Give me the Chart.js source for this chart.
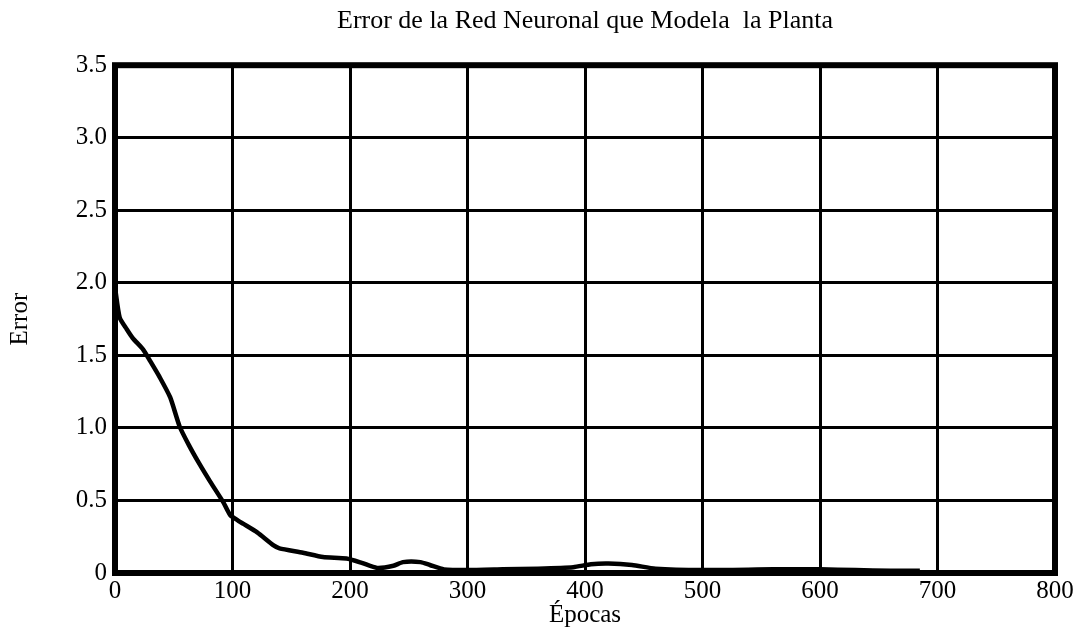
<!DOCTYPE html>
<html>
<head>
<meta charset="utf-8">
<script src="https://cdn.jsdelivr.net/npm/chart.js@4"></script>
<style>
  html, body { margin: 0; padding: 0; background: #fff; }
  #chart { display: block; }
</style>
</head>
<body>
<canvas id="chart" width="1085" height="630"></canvas>
<script>
// Datos
const epocas = [0, 4, 10, 15, 24, 30, 38, 47, 55, 63, 72, 81, 92, 98, 105, 109, 121, 135, 140, 160, 177, 197, 210, 223, 237, 245, 260, 268, 280, 300, 330, 360, 390, 405, 420, 440, 460, 500, 560, 600, 630, 660, 685];
const errores = [1.97, 1.76, 1.68, 1.62, 1.54, 1.46, 1.35, 1.21, 1.01, 0.88, 0.75, 0.63, 0.49, 0.40, 0.36, 0.34, 0.28, 0.19, 0.17, 0.14, 0.11, 0.10, 0.07, 0.035, 0.05, 0.075, 0.075, 0.055, 0.025, 0.02, 0.025, 0.03, 0.04, 0.06, 0.065, 0.055, 0.03, 0.02, 0.025, 0.025, 0.02, 0.015, 0.015];

const tituloGrafico = 'Error de la Red Neuronal que Modela  la Planta';
const tituloX = 'Épocas';
const tituloY = 'Error';

const fuente = 'Liberation Serif, Times New Roman, serif';

/**
 * Marco grueso alrededor del área del gráfico
 */
const marcoPlugin = {
  id: 'marco',
  afterDatasetsDraw(chart) {
    const { ctx, chartArea: a } = chart;
    ctx.save();
    ctx.strokeStyle = '#000';
    ctx.lineWidth = 6;
    ctx.strokeRect(a.left, a.top, a.right - a.left, a.bottom - a.top);
    ctx.restore();
  }
};

new Chart(document.getElementById('chart'), {
  type: 'line',
  data: {
    datasets: [{
      data: epocas.map((x, i) => ({ x: x, y: errores[i] })),
      borderColor: '#000',
      borderWidth: 4.5,
      pointRadius: 0,
      tension: 0.2,
      fill: false
    }]
  },
  options: {
    responsive: false,
    animation: false,
    layout: { padding: { left: 0, right: 30, top: 0, bottom: 0 } },
    plugins: {
      legend: { display: false },
      tooltip: { enabled: false },
      title: {
        display: true,
        fullSize: false,
        text: tituloGrafico,
        color: '#000',
        font: { family: fuente, size: 26, weight: 'normal' },
        padding: { top: 6, bottom: 28 }
      }
    },
    scales: {
      x: {
        type: 'linear',
        min: 0,
        max: 800,
        afterFit(scale) { scale.height = 57; },
        ticks: {
          stepSize: 100,
          color: '#000',
          padding: 3,
          maxRotation: 0,
          font: { family: fuente, size: 25 }
        },
        grid: { color: '#000', lineWidth: 3, drawTicks: false },
        border: { display: false },
        title: {
          display: true,
          text: tituloX,
          color: '#000',
          padding: { top: 0, bottom: 0 },
          font: { family: fuente, size: 25 }
        }
      },
      y: {
        min: 0,
        max: 3.5,
        afterFit(scale) { scale.width = 115; },
        ticks: {
          stepSize: 0.5,
          color: '#000',
          padding: 8,
          font: { family: fuente, size: 25 },
          callback: v => v === 0 ? '0' : v.toFixed(1)
        },
        grid: { color: '#000', lineWidth: 3, drawTicks: false },
        border: { display: false },
        title: {
          display: true,
          text: tituloY,
          color: '#000',
          padding: { top: 5, bottom: 0 },
          font: { family: fuente, size: 25 }
        }
      }
    }
  },
  plugins: [marcoPlugin]
});
</script>
</body>
</html>
